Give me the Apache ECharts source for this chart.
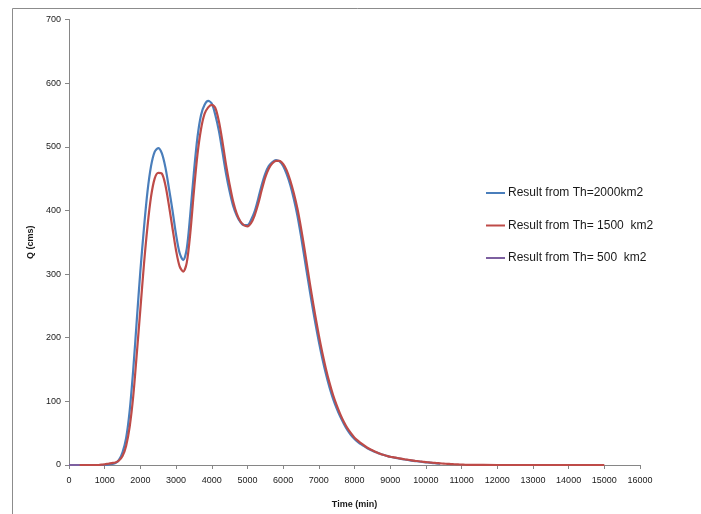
<!DOCTYPE html>
<html>
<head>
<meta charset="utf-8">
<script src="https://cdn.jsdelivr.net/npm/echarts@6/dist/echarts.min.js"></script>
<style>html,body{margin:0;padding:0;background:#fff}#c{width:701px;height:514px}</style>
</head>
<body>
<div id="c"></div>
<script>
var seriesNames = ['Result from Th=2000km2', 'Result from Th= 1500  km2', 'Result from Th= 500  km2'];

// time (min) every 100 from 0 to 10400
var timeBlue = [0,100,200,300,400,500,600,700,800,900,1000,1100,1200,1300,1400,1500,1600,1700,1800,1900,2000,2100,2200,2300,2400,2500,2600,2700,2800,2900,3000,3100,3200,3300,3400,3500,3600,3700,3800,3900,4000,4100,4200,4300,4400,4500,4600,4700,4800,4900,5000,5100,5200,5300,5400,5500,5600,5700,5800,5900,6000,6100,6200,6300,6400,6500,6600,6700,6800,6900,7000,7100,7200,7300,7400,7500,7600,7700,7800,7900,8000,8100,8200,8300,8400,8500,8600,8700,8800,8900,9000,9100,9200,9300,9400,9500,9600,9700,9800,9900,10000,10100,10200,10300,10400];
var qBlue = [0,0,0,0,0,0,0,0,0,0,0,0.5,1.5,3,8,20,42,85,150,228,305,372,430,470,492,498,490,468,435,400,362,333,322,340,395,460,515,550,566,572,568,550,525,492,458,430,407,392,382,377,377,385,398,418,440,458,470,476,479,477,470,457,440,418,392,360,325,290,256,224,194,167,143,122,104,89,76,65,55,47,41,36,32,28.5,25,22.5,20,18,16,14.5,13,11.8,10.7,9.7,8.7,7.8,7,6.2,5.5,4.8,4.2,3.6,3,2.5,2];

// time (min) every 100 from 0 to 11200, then flat to 15000
var timeRed = [0,100,200,300,400,500,600,700,800,900,1000,1100,1200,1300,1400,1500,1600,1700,1800,1900,2000,2100,2200,2300,2400,2500,2600,2700,2800,2900,3000,3100,3200,3300,3400,3500,3600,3700,3800,3900,4000,4100,4200,4300,4400,4500,4600,4700,4800,4900,5000,5100,5200,5300,5400,5500,5600,5700,5800,5900,6000,6100,6200,6300,6400,6500,6600,6700,6800,6900,7000,7100,7200,7300,7400,7500,7600,7700,7800,7900,8000,8100,8200,8300,8400,8500,8600,8700,8800,8900,9000,9100,9200,9300,9400,9500,9600,9700,9800,9900,10000,10100,10200,10300,10400,10500,10600,10700,10800,10900,11000,11100,11200,12000,13000,14000,15000];
var qRed = [0,0,0,0,0,0,0,0,0,0.5,1,2,3,4,7,14,30,60,108,175,245,315,375,422,450,459,458,440,408,372,337,312,304,318,365,430,488,528,552,562,566,561,540,508,472,441,414,395,383,377,375,380,392,410,432,452,466,474,478,478,473,463,447,427,403,373,339,303,268,235,204,176,151,129,110,94,80,68,58,50,43,38,33.5,29.5,26,23,20.5,18,16,14.5,13,12,11,10,9,8.2,7.4,6.6,5.9,5.2,4.6,4,3.5,3,2.6,2.2,1.8,1.5,1.2,0.9,0.6,0.4,0.2,0,0,0,0];

var timePurple = [0,300];
var qPurple = [0,0];

var xTicks = {min: 0, max: 16000, step: 1000};
var yTicks = {min: 0, max: 700, step: 100};

function pairs(t, q) { return t.map(function (v, i) { return [v, q[i]]; }); }

var colors = ['#4a7ebb', '#be4b48', '#7d60a0'];
var font = 'Liberation Sans, Arial, sans-serif';
var chart = echarts.init(document.getElementById('c'), null, {renderer: 'canvas'});
chart.setOption({
  animation: false,
  backgroundColor: '#fff',
  graphic: [{
    type: 'rect', silent: true,
    shape: {x: 12.5, y: 8.5, width: 800, height: 600},
    style: {fill: 'none', stroke: '#8c8c8c', lineWidth: 1}
  }],
  grid: {left: 69, right: 61, top: 19.5, bottom: 46, containLabel: false},
  legend: {
    orient: 'vertical', left: 481, top: 182,
    itemWidth: 19, itemHeight: 14, itemGap: 20.5,
    icon: 'path://M0,6H19V8H0Z',
    textStyle: {fontFamily: font, fontSize: 12, color: '#1a1a1a', padding: [0, 0, 0, -2]},
    data: seriesNames
  },
  xAxis: {
    type: 'value', min: xTicks.min, max: xTicks.max, interval: xTicks.step,
    name: 'Time (min)', nameLocation: 'middle', nameGap: 35,
    nameTextStyle: {fontFamily: font, fontSize: 9, fontWeight: 'bold', color: '#1a1a1a'},
    axisLine: {show: true, lineStyle: {color: '#868686', width: 1}},
    axisTick: {show: true, length: 4, lineStyle: {color: '#868686'}},
    axisLabel: {fontFamily: font, fontSize: 9, color: '#1a1a1a', margin: 11, formatter: function (v) { return String(v); }},
    splitLine: {show: false}
  },
  yAxis: {
    type: 'value', min: yTicks.min, max: yTicks.max, interval: yTicks.step,
    name: 'Q (cms)', nameLocation: 'middle', nameGap: 31, nameRotate: 90,
    nameTextStyle: {fontFamily: font, fontSize: 9, fontWeight: 'bold', color: '#1a1a1a'},
    axisLine: {show: true, lineStyle: {color: '#868686', width: 1}},
    axisTick: {show: true, length: 4, lineStyle: {color: '#868686'}},
    axisLabel: {fontFamily: font, fontSize: 9, color: '#1a1a1a', margin: 8, formatter: function (v) { return String(v); }},
    splitLine: {show: false}
  },
  series: [
    {name: seriesNames[0], type: 'line', data: pairs(timeBlue, qBlue), smooth: 0.3, showSymbol: false, symbol: 'none',
     lineStyle: {color: colors[0], width: 2.2}, itemStyle: {color: colors[0]}, z: 2},
    {name: seriesNames[1], type: 'line', data: pairs(timeRed, qRed), smooth: 0.3, showSymbol: false, symbol: 'none',
     lineStyle: {color: colors[1], width: 2.2}, itemStyle: {color: colors[1]}, z: 3},
    {name: seriesNames[2], type: 'line', data: pairs(timePurple, qPurple), showSymbol: false, symbol: 'none',
     lineStyle: {color: colors[2], width: 2.2}, itemStyle: {color: colors[2]}, z: 4}
  ]
});
</script>
</body>
</html>
